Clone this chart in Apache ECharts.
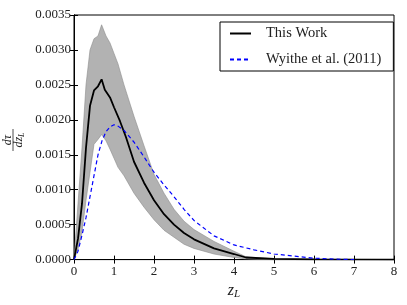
<!DOCTYPE html>
<html><head><meta charset="utf-8">
<script src="https://cdn.jsdelivr.net/npm/echarts@6/dist/echarts.min.js"></script>
<style>html,body{margin:0;padding:0;background:#fff}#c{width:407px;height:305px}</style>
</head><body><div id="c"></div>
<script>
// x ticks
const xTicks = [0,1,2,3,4,5,6,7,8];
const yTicks = ["0.0000","0.0005","0.0010","0.0015","0.0020","0.0025","0.0030","0.0035"];
// This Work (median)
const zMedian = [0,0.1,0.2,0.3,0.4,0.5,0.6,0.69,0.77,0.9,1.0,1.15,1.3,1.5,1.75,2.0,2.25,2.5,2.75,3.0,3.5,4.0,4.3,5.0,6.0,8.0];
const median  = [0,0.0003,0.0008,0.0016,0.0022,0.00242,0.00248,0.00258,0.00243,0.00232,0.00218,0.00198,0.00175,0.0014,0.0011,0.00085,0.00065,0.0005,0.00038,0.00029,0.00016,0.00008,0.00003,0.00001,0.000003,0];
// band
const zBand = [0,0.1,0.2,0.3,0.4,0.5,0.6,0.69,0.8,0.9,1.0,1.1,1.25,1.5,1.75,2.0,2.25,2.5,2.75,3.0,3.5,4.0,4.3,5.0,8.0];
const lower = [0,0.00015,0.0004,0.00085,0.00125,0.00165,0.00172,0.00179,0.0017,0.00158,0.00145,0.00132,0.0012,0.00095,0.00075,0.00057,0.00042,0.00032,0.00022,0.00016,0.00008,0.00003,0.00001,0,0];
const upper = [0,0.0008,0.0016,0.0025,0.0030,0.00316,0.0032,0.00336,0.0032,0.0031,0.00295,0.0028,0.0025,0.00205,0.00163,0.00122,0.00095,0.00072,0.00055,0.00043,0.00026,0.00012,0.00004,0.00001,0];
// Wyithe et al. (2011)
const zWyithe = [0,0.1,0.2,0.3,0.4,0.5,0.6,0.7,0.8,0.9,1.0,1.1,1.25,1.5,1.75,2.0,2.25,2.5,2.75,3.0,3.5,4.0,4.5,5.0,5.5,6.0,6.5,7.0];
const wyithe  = [0,0.00012,0.00035,0.0006,0.0009,0.0012,0.0015,0.0017,0.00183,0.0019,0.00193,0.00191,0.00185,0.00168,0.00147,0.00125,0.00107,0.0009,0.00072,0.00056,0.00034,0.00021,0.00014,0.00008,0.00005,0.00002,0.000008,0];

const FONT = '"Liberation Serif", "DejaVu Serif", serif';
const pairs = (xs, ys) => xs.map((x,i)=>[x, ys[i]]);
const chart = echarts.init(document.getElementById('c'), null, {renderer:'canvas'});
const axisCommon = {
  min: 0,
  axisLine: {show: true, lineStyle: {color: '#000', width: 1}},
  axisTick: {show: true, inside: true, length: 4, lineStyle: {color: '#000'}},
  splitLine: {show: false}
};
function renderBand(params, api) {
  if (params.dataIndex !== 0) return;
  const pts = [];
  for (let i = 0; i < zBand.length; i++) pts.push(api.coord([zBand[i], upper[i]]));
  for (let i = zBand.length - 1; i >= 0; i--) pts.push(api.coord([zBand[i], lower[i]]));
  return {type:'polygon', shape:{points: pts}, style:{fill:'#b2b2b2', stroke:'#8c8c8c', lineWidth:0.6}};
}
chart.setOption({
  animation: false,
  grid: {left: 74, right: 13, top: 15, bottom: 44, show: true, borderColor: '#000', borderWidth: 1, backgroundColor: 'transparent'},
  xAxis: [
    Object.assign({}, axisCommon, {type:'value', max: 8, interval: 1,
      axisLabel: {color:'#222', fontFamily: FONT, fontSize: 13, margin: 5, formatter: v => String(xTicks[Math.round(v)])},
      name: '{z|z}{s|L}', nameLocation: 'middle', nameGap: 18,
      nameTextStyle: {rich: {z: {fontFamily: FONT, fontStyle:'italic', fontSize: 16, color:'#222'}, s: {fontFamily: FONT, fontStyle:'italic', fontSize: 11, color:'#222', padding:[8,0,0,0]}}}
    }),
    Object.assign({}, axisCommon, {type:'value', max: 8, interval: 1, position:'top', axisLabel:{show:false}})
  ],
  yAxis: [
    Object.assign({}, axisCommon, {type:'value', max: 0.0035, interval: 0.0005,
      axisLabel: {color:'#222', fontFamily: FONT, fontSize: 13, margin: 3, formatter: (v) => { const i = Math.round(v/0.0005); return yTicks[i]; }}
    }),
    Object.assign({}, axisCommon, {type:'value', max: 0.0035, interval: 0.0005, position:'right', axisLabel:{show:false}})
  ],
  legend: {
    data: ['This Work', 'Wyithe et al. (2011)'],
    orient: 'vertical', left: 220, top: 22,
    padding: [4, 12, 4, 9],
    itemWidth: 21, itemHeight: 14, itemGap: 11,
    itemStyle: {opacity: 0},
    borderColor: '#000', borderWidth: 1, borderRadius: 0,
    textStyle: {fontFamily: FONT, fontSize: 14.5, color: '#222', padding: [0,0,0,10]}
  },
  series: [
    {name:'band', type:'custom', data: zBand.map((z,i)=>[z, lower[i], upper[i]]), renderItem: renderBand,
      encode:{x:0, y:[1,2]}, silent:true, z:1},
    {name:'This Work', type:'line', data: pairs(zMedian, median), symbol:'none',
      itemStyle:{color:'#000'}, lineStyle:{color:'#000', width:1.8}, z:3},
    {name:'Wyithe et al. (2011)', type:'line', data: pairs(zWyithe, wyithe), symbol:'none',
      itemStyle:{color:'#0000ff'}, lineStyle:{color:'#0000ff', width:1.2, type:[4,3]}, z:4}
  ],
  graphic: [{
    type:'group', x: 13, y: 140, rotation: Math.PI/2,
    children: [
      {type:'text', x:0, y:-5.5, style:{text:'dτ', fontFamily: FONT, fontStyle:'italic', fontSize: 12, fill:'#222', textAlign:'center', textVerticalAlign:'middle'}},
      {type:'line', shape:{x1:-11, y1:0, x2:11, y2:0}, style:{stroke:'#222', lineWidth:0.8}},
      {type:'text', x:0, y:6, style:{text:'{a|dz}{b|L}', rich:{a:{fontFamily: FONT, fontStyle:'italic', fontSize: 12, fill:'#222'}, b:{fontFamily: FONT, fontStyle:'italic', fontSize: 8, fill:'#222', padding:[5,0,0,0]}}, textAlign:'center', textVerticalAlign:'middle'}}
    ]
  }]
});
</script></body></html>
